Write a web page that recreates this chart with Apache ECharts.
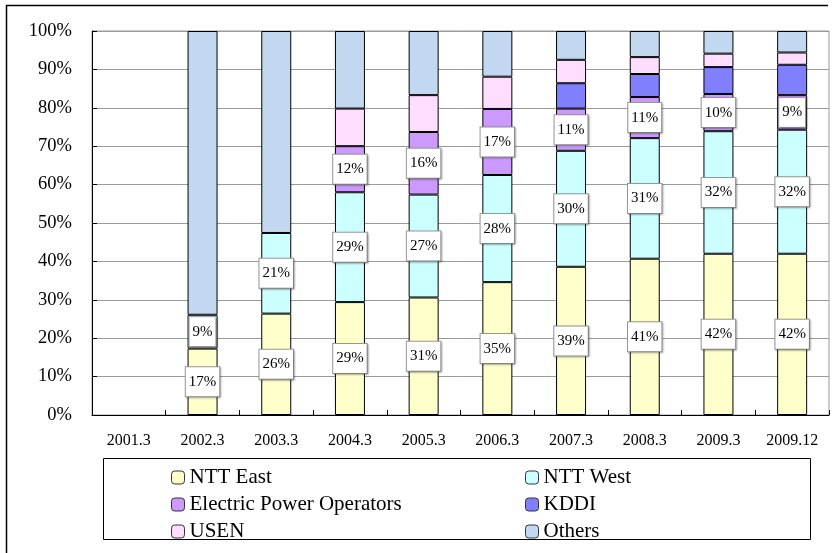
<!DOCTYPE html>
<html>
<head>
<meta charset="utf-8">
<script src="https://cdn.jsdelivr.net/npm/echarts@6/dist/echarts.min.js"></script>
<style>
  html, body { margin: 0; padding: 0; background: #fff; }
  #chart { width: 833px; height: 553px; }
</style>
</head>
<body>
<div id="chart"></div>
<script>
// categories and shares (%)
const categories = ['2001.3', '2002.3', '2003.3', '2004.3', '2005.3', '2006.3', '2007.3', '2008.3', '2009.3', '2009.12']
const nttEast = [null, 17.3, 26.4, 29.4, 30.6, 34.6, 38.6, 40.7, 42.0, 42.0]
const nttWest = [null, 8.8, 21.0, 28.6, 26.8, 27.9, 30.2, 31.4, 31.9, 32.3]
const electric = [null, null, null, 12.0, 16.3, 17.2, 11.0, 10.7, 9.7, 9.0]
const kddi = [null, null, null, null, null, null, 6.6, 6.0, 7.0, 7.9]
const usen = [null, null, null, 9.8, 9.6, 8.4, 6.1, 4.4, 3.5, 3.2]
const others = [null, 73.9, 52.6, 20.2, 16.7, 11.9, 7.5, 6.8, 5.9, 5.6]
const yTicks = [0, 10, 20, 30, 40, 50, 60, 70, 80, 90, 100]

const FONT = '"Liberation Serif", "Times New Roman", serif'

const chart = echarts.init(document.getElementById('chart'))

const boxLabel = {
  show: true,
  position: 'inside',
  formatter: (p) => Math.round(p.value) + '%',
  fontFamily: FONT,
  fontSize: 15,
  color: '#000',
  backgroundColor: '#fff',
  borderColor: '#9a9a9a',
  borderWidth: 1,
  padding: [7, 3],
  shadowColor: 'rgba(0,0,0,0.25)',
  shadowBlur: 2,
  shadowOffsetX: 1,
  shadowOffsetY: 1,
}

const makeSeries = (name, data, color, withLabel) => ({
  name,
  type: 'bar',
  stack: 'share',
  barWidth: 30,
  data,
  itemStyle: { color, borderColor: '#000', borderWidth: 1 },
  label: withLabel ? boxLabel : { show: false },
  emphasis: { disabled: true },
})

const legendText = { fontFamily: FONT, fontSize: 21, color: '#000', lineHeight: 21 }
const legendItemStyle = { borderColor: '#333', borderWidth: 1 }

const option = {
  backgroundColor: '#fff',
  animation: false,
  grid: {
    left: 92,
    right: 4,
    top: 31,
    bottom: 138,
    show: true,
    borderColor: '#9a9a9a',
    borderWidth: 1,
  },
  xAxis: {
    type: 'category',
    data: categories,
    axisLine: { lineStyle: { color: '#000', width: 1 } },
    axisTick: { show: true, inside: true, length: 5, lineStyle: { color: '#000' } },
    axisLabel: { fontFamily: FONT, fontSize: 16, color: '#000', margin: 18, interval: 0 },
    splitLine: { show: false },
  },
  yAxis: {
    type: 'value',
    min: yTicks[0],
    max: yTicks[yTicks.length - 1],
    interval: 10,
    axisLine: { show: true, lineStyle: { color: '#000', width: 1 } },
    axisTick: { show: true, inside: true, length: 5, lineStyle: { color: '#000' } },
    axisLabel: { fontFamily: FONT, fontSize: 18.5, color: '#000', margin: 20, formatter: '{value}%' },
    splitLine: { show: true, lineStyle: { color: '#9a9a9a', width: 1 } },
  },
  legend: [
    {
      orient: 'vertical',
      left: 166,
      top: 462,
      itemWidth: 13,
      itemHeight: 13,
      itemGap: 6,
      textStyle: legendText,
      itemStyle: legendItemStyle,
      selectedMode: false,
      data: ['NTT East', 'Electric Power Operators', 'USEN'],
    },
    {
      orient: 'vertical',
      left: 520,
      top: 462,
      itemWidth: 13,
      itemHeight: 13,
      itemGap: 6,
      textStyle: legendText,
      itemStyle: legendItemStyle,
      selectedMode: false,
      data: ['NTT West', 'KDDI', 'Others'],
    },
  ],
  graphic: [
    {
      type: 'rect',
      shape: { x: 103.5, y: 458.5, width: 707, height: 81 },
      style: { fill: 'none', stroke: '#000', lineWidth: 1 },
      silent: true,
    },
    {
      type: 'polyline',
      shape: { points: [[6.5, 553], [6.5, 5.5], [828, 5.5]] },
      style: { fill: 'none', stroke: '#000', lineWidth: 1.5 },
      silent: true,
    },
  ],
  series: [
    makeSeries('NTT East', nttEast, '#FFFFCC', true),
    makeSeries('NTT West', nttWest, '#CCFFFF', true),
    makeSeries('Electric Power Operators', electric, '#CC99FF', true),
    makeSeries('KDDI', kddi, '#8080FF', false),
    makeSeries('USEN', usen, '#FFDDFF', false),
    makeSeries('Others', others, '#C2D8F0', false),
  ],
}

chart.setOption(option)
</script>
</body>
</html>
